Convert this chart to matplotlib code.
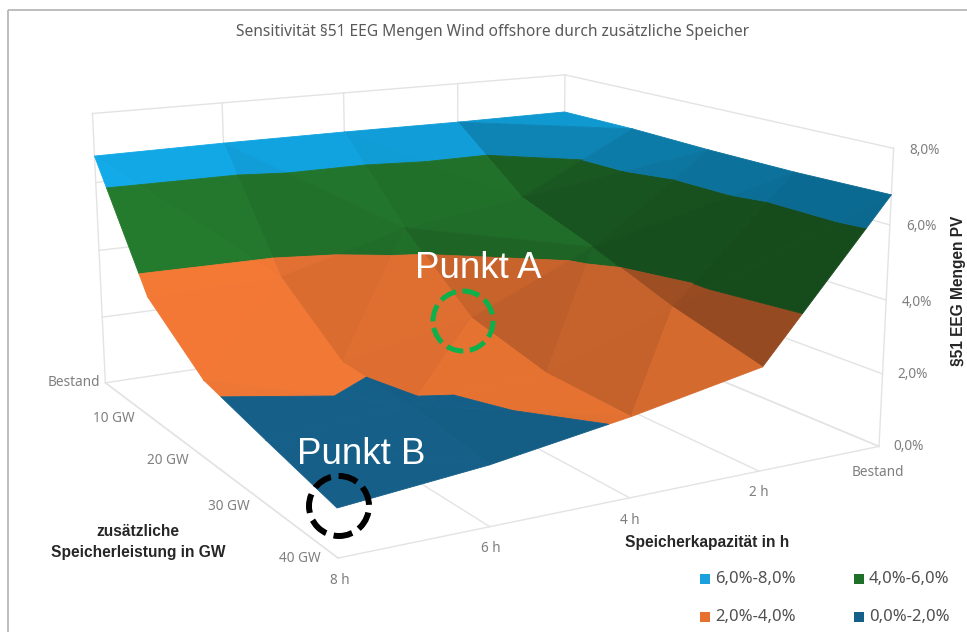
#!/usr/bin/env python3
"""
Sensitivity of §51 EEG volumes against additional storage, as a banded 3D surface.
"""

import matplotlib
matplotlib.use('Agg')
import matplotlib.pyplot as plt
import numpy as np
from matplotlib.patches import Circle, Rectangle
from mpl_toolkits.mplot3d.art3d import Poly3DCollection

# Axis categories
capacity_labels = ['Bestand', '2 h', '4 h', '6 h', '8 h']
power_labels = ['Bestand', '10 GW', '20 GW', '30 GW', '40 GW']
percent_labels = ['0,0%', '2,0%', '4,0%', '6,0%', '8,0%']

# Surface values in percent, one list per storage power, ordered by capacity
values_bestand = [6.79, 6.78, 6.80, 6.80, 6.77]
values_10gw = [6.80, 5.06, 4.55, 3.56, 3.48]
values_20gw = [6.75, 4.31, 2.75, 2.045, 2.14]
values_30gw = [6.74, 3.44, 2.18, 1.92, 1.66]
values_40gw = [6.79, 2.77, 2.09, 1.54, 1.20]

# Value bands and their legend entries
band_edges = [0, 2, 4, 6, 8]
band_labels = ['0,0%-2,0%', '2,0%-4,0%', '4,0%-6,0%', '6,0%-8,0%']
band_colors = ['#15608A', '#F67A36', '#247B2E', '#12ACEB']
legend_colors = ['#15608A', '#E8702E', '#1E6F2A', '#1AA0DC']

W, H = 967, 632


def clip_band(tri, low, high):
    """Cut a triangle down to the part between two heights."""
    poly = list(tri)
    for level, sign in ((low, 1), (high, -1)):
        out = []
        for k in range(len(poly)):
            a, b = np.array(poly[k]), np.array(poly[(k + 1) % len(poly)])
            da, db = sign * (a[2] - level), sign * (b[2] - level)
            if da >= 0:
                out.append(a)
            if da * db < 0:
                out.append(a + (b - a) * da / (da - db))
        poly = out
        if not poly:
            break
    return poly


def facet_shade(tri):
    """Flat shading, slopes falling towards the front right get darker."""
    a, b, c = [np.array(p) * [1, 1, 0.5] for p in tri]
    n = np.cross(b - a, c - a)
    n = n / np.linalg.norm(n)
    if n[2] < 0:
        n = -n
    centre_x = (tri[0][0] + tri[1][0] + tri[2][0]) / 3
    return (1.0 - 0.10 * n[0] - 0.30 * max(n[0], 0) ** 2) * (0.88 + 0.03 * centre_x)


def surface_polygons(z):
    polys, colors = [], []
    for j in range(z.shape[0] - 1):
        for i in range(z.shape[1] - 1):
            p00 = (i, j, z[j, i])
            p10 = (i + 1, j, z[j, i + 1])
            p01 = (i, j + 1, z[j + 1, i])
            p11 = (i + 1, j + 1, z[j + 1, i + 1])
            # split each cell along its higher diagonal
            if z[j, i] + z[j + 1, i + 1] >= z[j, i + 1] + z[j + 1, i]:
                tris = [(p00, p10, p11), (p00, p11, p01)]
            else:
                tris = [(p00, p10, p01), (p10, p11, p01)]
            for tri in tris:
                shade = facet_shade(tri)
                for b, base in enumerate(band_colors):
                    part = clip_band(tri, band_edges[b], band_edges[b + 1])
                    if len(part) >= 3:
                        # the lowest band stays almost flat in colour
                        s = 1 - (1 - shade) * 0.3 if b == 0 else shade
                        rgb = np.array(matplotlib.colors.to_rgb(base)) * s
                        polys.append([tuple(q) for q in part])
                        colors.append(tuple(np.clip(rgb, 0, 1)))
    return polys, colors


def main():
    z = np.array([values_bestand, values_10gw, values_20gw, values_30gw, values_40gw])
    fig = plt.figure(figsize=(W / 100, H / 100), dpi=100, facecolor='white')

    # 3D axes with the camera of the chart
    ax = fig.add_axes([146.91 / W, 33.56 / H, 632 / W, 1], projection='3d',
                      computed_zorder=False)
    ax.set_xlim(0, 4, view_margin=0)
    ax.set_ylim(0, 4, view_margin=0)
    ax.set_zlim(0, 8, view_margin=0)
    ax.view_init(13.6378, 60.6231, 0.1284)
    ax.set_proj_type('persp', focal_length=0.5263 + 0.05)
    ax.set_box_aspect((1.9823, 1.9744, 1), zoom=1.3285)
    ax.set_axis_off()

    # Walls and floor grid
    grid = dict(color='#E3E3E3', lw=1.0, clip_on=False, zorder=1)
    for i in range(5):
        ax.plot([i, i], [0, 4], [0, 0], **grid)
        ax.plot([i, i], [0, 0], [0, 8], **grid)
    for level in band_edges:
        ax.plot([0, 4], [0, 0], [level, level], **grid)
        ax.plot([0, 0], [0, 4], [level, level], **grid)
    ax.plot([0, 4], [4, 4], [0, 0], **grid)
    ax.plot([0, 0], [4, 4], [0, 8], **grid)
    ax.plot([4, 4], [0, 4], [0, 0], **grid)

    polys, colors = surface_polygons(z)
    surf = Poly3DCollection(polys, facecolors=colors, edgecolors=colors,
                            linewidths=0.6, clip_on=False, zorder=2)
    ax.add_collection3d(surf)

    # Flat overlay in pixel units for annotations and labels
    ov = fig.add_axes([0, 0, 1, 1])
    ov.set_xlim(0, W)
    ov.set_ylim(H, 0)
    ov.axis('off')
    ov.patch.set_alpha(0)

    ov.add_patch(Rectangle((7.5, 10), W + 20, H + 20, fill=False, ec='#B8B8B8', lw=1.3))

    font = ['Noto Sans', 'DejaVu Sans']
    ov.text(492.5, 32, 'Sensitivität §51 EEG Mengen Wind offshore durch zusätzliche Speicher',
            ha='center', va='center', fontsize=11.2, color='#595959', family=font)

    tick = dict(ha='center', va='center', fontsize=9.8, color='#7F7F7F', family=font)
    for label, pos in zip(percent_labels, [(909, 447), (913, 375), (917, 302), (921, 226), (925, 150)]):
        ov.text(*pos, label, **tick)
    for label, pos in zip(capacity_labels, [(878, 472), (759, 493), (630, 521), (491, 549), (340, 580)]):
        ov.text(*pos, label, **tick)
    for label, pos in zip(power_labels, [(74, 383), (114, 419), (168, 460), (229, 506), (300, 558)]):
        ov.text(*pos, label, **tick)

    bold = dict(ha='center', va='center', fontsize=11.2, fontweight='bold', color='#262626',
                family='Liberation Sans')
    ov.text(138, 531, 'zusätzliche', **bold)
    ov.text(138, 553, 'Speicherleistung in GW', **bold)
    ov.text(707, 543, 'Speicherkapazität in h', **bold)
    ov.text(958, 291, '§51 EEG Mengen PV', rotation=90, **bold)

    # Legend
    spots = [(859, 617), (705, 617), (859, 579), (705, 579)]
    for label, color, (x, y) in zip(band_labels, legend_colors, spots):
        ov.add_patch(Rectangle((x - 5, y - 5), 10, 10, fc=color, ec='none'))
        ov.text(x + 10, y, label, ha='left', va='center', fontsize=12, color='#505050', family=font)

    # Marked operating points
    ov.add_patch(Circle((463, 321), 30, fill=False, ec='#0DB14B', lw=3.6, ls=(0, (3.4, 1.3))))
    ov.add_patch(Circle((339, 506), 30, fill=False, ec='black', lw=4.3, ls=(0, (3.2, 1.3))))
    ov.text(478, 268, 'Punkt A', ha='center', va='center', fontsize=26.5, color='white', family='Liberation Sans')
    ov.text(361, 454, 'Punkt B', ha='center', va='center', fontsize=26.5, color='white', family='Liberation Sans')

    fig.savefig('out.png', dpi=100, facecolor='white')


if __name__ == '__main__':
    main()
